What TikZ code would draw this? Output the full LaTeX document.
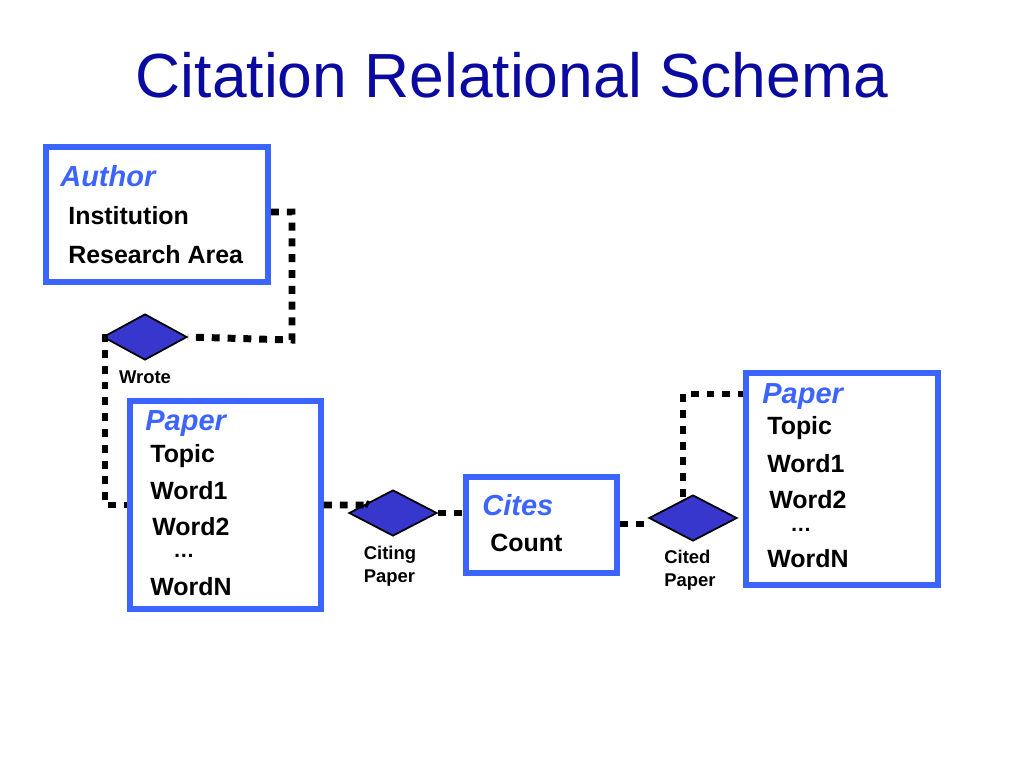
\documentclass[tikz,border=0pt]{standalone}
\usepackage{fontspec}
\setmainfont{Liberation Sans}
\usetikzlibrary{shapes.geometric}
\definecolor{boxblue}{RGB}{60,100,255}
\definecolor{dia}{RGB}{55,55,205}
\definecolor{titleblue}{RGB}{10,10,160}
\begin{document}
\begin{tikzpicture}[x=0.02cm,y=-0.02cm,
  box/.style={draw=boxblue,line width=6*0.567pt,inner sep=0pt},
  ent/.style={anchor=west,font=\fontsize{16.5}{18}\selectfont\bfseries\itshape,text=boxblue,inner sep=0pt},
  att/.style={anchor=west,font=\fontsize{14.2}{16}\selectfont\bfseries,inner sep=0pt},
  dd/.style={anchor=west,font=\fontsize{12}{12}\selectfont\bfseries,inner sep=0pt},
  lab/.style={align=left,font=\fontsize{10.5}{13}\selectfont\bfseries,inner sep=0pt},
  rel/.style={diamond,draw=black,fill=dia,line width=1pt,minimum width=88*0.02cm,minimum height=46*0.02cm,inner sep=0pt,aspect=1.9},
  dots/.style={line width=7*0.567pt,dash pattern=on 4.5pt off 4.5pt}]
\useasboundingbox (0,0) rectangle (1024,768);
\node[text=titleblue,font=\fontsize{35.5}{40}\selectfont] (title) at (512,75) {Citation Relational Schema};
% Author
\node[box,minimum width=222*0.02cm,minimum height=135*0.02cm] (author) at (157,214.5) {};
\node[ent] (an) at (60,176) {Author};
\node[att] (a1) at (68,216) {Institution};
\node[att] (a2) at (68,255) {Research Area};
% Wrote
\node[rel,minimum width=84*0.02cm] (wrote) at (145,337) {};
\node[lab] (wl) at (145,377) {Wrote};
% Paper1
\node[box,minimum width=191*0.02cm,minimum height=208*0.02cm] (p1) at (225.5,505) {};
\node[ent] (p1n) at (145,424) {Paper};
\node[att] at (150,456) {Topic};
\node[att] at (150,491) {Word1};
\node[att] at (152,527) {Word2};
\node[dd] at (173,556) {\ldots};
\node[att] at (150,587) {WordN};
% Citing
\node[rel] (citing) at (393,513) {};
\node[lab] (cl) at (390,566) {Citing\\Paper};
% Cites
\node[box,minimum width=151*0.02cm,minimum height=96*0.02cm] (cites) at (541.5,525) {};
\node[ent] at (482,505) {Cites};
\node[att] at (490,543) {Count};
% Cited
\node[rel] (cited) at (693,518) {};
\node[lab] (cdl) at (690,570) {Cited\\Paper};
% Paper2
\node[box,minimum width=192*0.02cm,minimum height=212*0.02cm] (p2) at (842,479) {};
\node[ent] at (762,397) {Paper};
\node[att] at (767,428) {Topic};
\node[att] at (767,464) {Word1};
\node[att] at (769,500) {Word2};
\node[dd] at (790,530) {\ldots};
\node[att] at (767,559) {WordN};
% connectors
\draw[dots] (author.east |- 0,212) -| (292,340) -- (wrote.east);
\draw[dots] (wrote.west) -| (105,505) -- (p1.west |- 0,505);
\draw[dots] (p1.east |- 0,505) -- (370,505) -- (citing);
\draw[dots] (citing.east) -- (cites.west |- citing.east);
\draw[dots] (cites.east |- 0,524) -- (cited.west |- 0,524);
\draw[dots] (683,497) -- (683,394) -- (p2.west |- 0,394);
\end{tikzpicture}
\end{document}
